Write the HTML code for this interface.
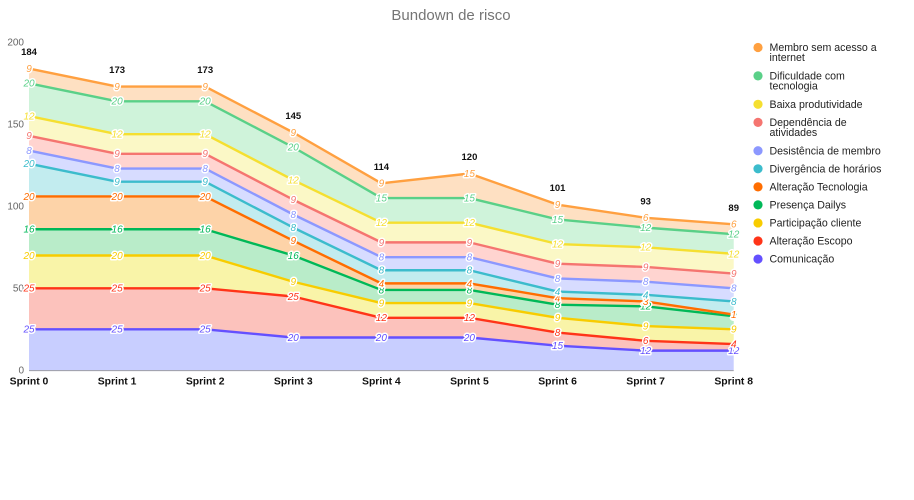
<!DOCTYPE html>
<html lang="pt">
<head>
<meta charset="utf-8">
<title>Bundown de risco</title>
<style>
html,body{margin:0;padding:0;background:#fff;}
svg{display:block;}
text{font-family:"Liberation Sans",sans-serif;}
</style>
</head>
<body>
<svg id="chart" width="914" height="500" viewBox="0 0 914 500" xmlns="http://www.w3.org/2000/svg">
<text x="451" y="20" text-anchor="middle" font-size="15" fill="#757575">Bundown de risco</text>
<g id="areas"></g>
<g id="lines"></g>
<g id="axes"></g>
<g id="labels"></g>
<g id="totals"></g>
<g id="legend"></g>
</svg>
<script>
const categories = ["Sprint 0","Sprint 1","Sprint 2","Sprint 3","Sprint 4","Sprint 5","Sprint 6","Sprint 7","Sprint 8"];
const yTicks = [0,50,100,150,200];
const comunicacao = [25,25,25,20,20,20,15,12,12];
const alteracaoEscopo = [25,25,25,25,12,12,8,6,4];
const participacaoCliente = [20,20,20,9,9,9,9,9,9];
const presencaDailys = [16,16,16,16,8,8,8,12,8];
const alteracaoTecnologia = [20,20,20,9,4,4,4,3,1];
const divergenciaHorarios = [20,9,9,8,8,8,4,4,8];
const desistenciaMembro = [8,8,8,8,8,8,8,8,8];
const dependenciaAtividades = [9,9,9,9,9,9,9,9,9];
const baixaProdutividade = [12,12,12,12,12,12,12,12,12];
const dificuldadeTecnologia = [20,20,20,20,15,15,15,12,12];
const membroSemAcesso = [9,9,9,9,9,15,9,6,6];

const seriesValues = [comunicacao,alteracaoEscopo,participacaoCliente,presencaDailys,alteracaoTecnologia,divergenciaHorarios,desistenciaMembro,dependenciaAtividades,baixaProdutividade,dificuldadeTecnologia,membroSemAcesso];
const seriesKeys = ["comunicacao","alteracao-escopo","participacao-cliente","presenca-dailys","alteracao-tecnologia","divergencia-horarios","desistencia-membro","dependencia-atividades","baixa-produtividade","dificuldade-tecnologia","membro-sem-acesso"];
const legendNames = [["Comunicação"],["Alteração Escopo"],["Participação cliente"],["Presença Dailys"],["Alteração Tecnologia"],["Divergência de horários"],["Desistência de membro"],["Dependência de","atividades"],["Baixa produtividade"],["Dificuldade com","tecnologia"],["Membro sem acesso a","internet"]];
const lineColors = ["#6450ff","#ff3418","#f8cc00","#00b858","#ff6d00","#3cbccc","#8c98ff","#f57570","#f5df30","#5ad088","#ffa040"];
const fillColors = ["#c8ceff","#fcc2bc","#f9f4a8","#b9ecc9","#fdd3a8","#c2ecef","#d7dcff","#ffd4d0","#fbf8c6","#cff3da","#fee0c2"];

const NS = "http://www.w3.org/2000/svg";
const xAt = i => 29 + i * 88.09;
const yAt = v => 370.3 - v * 1.64;
function make(tag, parent, attrs, txt){
  const el = document.createElementNS(NS, tag);
  for (const k in attrs) el.setAttribute(k, attrs[k]);
  if (txt !== undefined) el.textContent = txt;
  parent.appendChild(el);
  return el;
}
const areasG = document.getElementById("areas");
const linesG = document.getElementById("lines");
const axesG = document.getElementById("axes");
const labelsG = document.getElementById("labels");
const totalsG = document.getElementById("totals");
const legendG = document.getElementById("legend");

let base = categories.map(() => 0);
const stackedLayers = seriesValues.map(vals => {
  const top = vals.map((v,i) => base[i] + v);
  const layer = {top: top, bottom: base};
  base = top;
  return layer;
});
const totals = base;

stackedLayers.forEach((layer, s) => {
  const upper = layer.top.map((v,i) => xAt(i).toFixed(2) + "," + yAt(v).toFixed(2));
  const lower = layer.bottom.map((v,i) => xAt(i).toFixed(2) + "," + yAt(v).toFixed(2)).reverse();
  const area = make("polygon", areasG, {points: upper.concat(lower).join(" "), fill: fillColors[s]});
  
  
});

const baseline = make("line", axesG, {x1: 29, x2: xAt(categories.length-1), y1: 370.6, y2: 370.6, stroke: "#9a9aa4", "stroke-width": 1});



yTicks.forEach(t => {
  const el = make("text", axesG, {x: 24, y: yAt(t) + 3.2, "text-anchor": "end", "font-size": 10, fill: "#666"}, t);
  
  
});
categories.forEach((c,i) => {
  const el = make("text", axesG, {x: xAt(i), y: 384.5, "text-anchor": "middle", "font-size": 10.4, "font-weight": "bold", fill: "#111"}, c);
  
  
});

stackedLayers.forEach((layer, s) => {
  const pts = layer.top.map((v,i) => xAt(i).toFixed(2) + "," + yAt(v).toFixed(2)).join(" ");
  const line = make("polyline", linesG, {points: pts, fill: "none", stroke: lineColors[s], "stroke-width": 2.4, "stroke-linejoin": "round"});
  
  
});

stackedLayers.forEach((layer, s) => {
  layer.top.forEach((v,i) => {
    const el = make("text", labelsG, {x: xAt(i), y: yAt(v) + 3.4, "text-anchor": "middle", "font-size": 10, "font-style": "italic", fill: lineColors[s], stroke: "#fff", "stroke-width": 3, "paint-order": "stroke", "stroke-linejoin": "round"}, seriesValues[s][i]);
    el.style.paintOrder = "stroke";
    
    
  });
});

totals.forEach((t,i) => {
  const el = make("text", totalsG, {x: xAt(i), y: yAt(t) - 13.5, "text-anchor": "middle", "font-size": 9.5, "font-weight": "bold", fill: "#111"}, t);
  
  
});

let legendY = 47.5;
for (let s = legendNames.length - 1; s >= 0; s--) {
  const lines = legendNames[s];
  const item = make("g", legendG, {});
  
  
  make("circle", item, {cx: 758, cy: legendY, r: 4.6, fill: lineColors[s]});
  lines.forEach((ln, k) => {
    make("text", item, {x: 769.5, y: legendY + 3.6 + k * 10, "font-size": 10.6, fill: "#222"}, ln);
  });
  legendY += lines.length > 1 ? 28.4 : 18.05;
}
</script>
</body>
</html>
